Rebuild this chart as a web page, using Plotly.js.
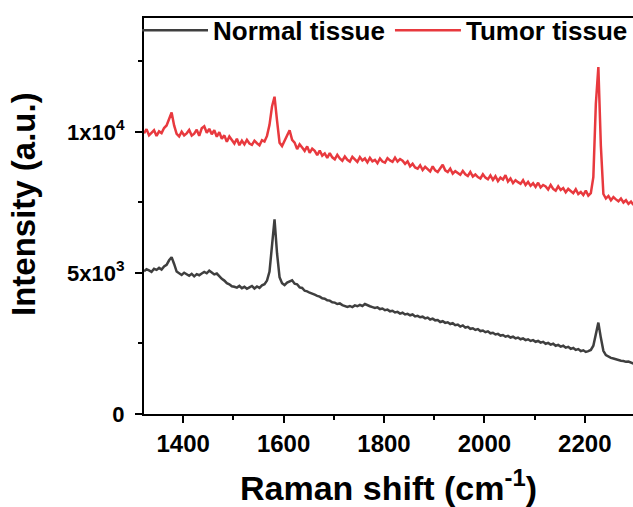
<!DOCTYPE html>
<html>
<head>
<meta charset="utf-8">
<script src="https://cdn.plot.ly/plotly-3.0.1.min.js"></script>
<style>html,body{margin:0;padding:0;background:#fff;}#chart{width:633px;height:507px;}</style>
</head>
<body>
<div id="chart"></div>
<script>
// Raman shift (cm^-1)
var ramanShift = [
  1322,1327,1332,1337,1342,1347,1352,1357,1362,1367,
  1372,1377,1382,1387,1392,1397,1402,1407,1412,1417,
  1422,1427,1432,1437,1442,1447,1452,1457,1462,1467,
  1472,1477,1482,1487,1492,1497,1502,1507,1512,1517,
  1522,1527,1532,1537,1542,1547,1552,1557,1562,1567,
  1572,1577,1582,1587,1592,1597,1602,1607,1612,1617,
  1622,1627,1632,1637,1642,1647,1652,1657,1662,1667,
  1672,1677,1682,1687,1692,1697,1702,1707,1712,1717,
  1722,1727,1732,1737,1742,1747,1752,1757,1762,1767,
  1772,1777,1782,1787,1792,1797,1802,1807,1812,1817,
  1822,1827,1832,1837,1842,1847,1852,1857,1862,1867,
  1872,1877,1882,1887,1892,1897,1902,1907,1912,1917,
  1922,1927,1932,1937,1942,1947,1952,1957,1962,1967,
  1972,1977,1982,1987,1992,1997,2002,2007,2012,2017,
  2022,2027,2032,2037,2042,2047,2052,2057,2062,2067,
  2072,2077,2082,2087,2092,2097,2102,2107,2112,2117,
  2122,2127,2132,2137,2142,2147,2152,2157,2162,2167,
  2172,2177,2182,2187,2192,2197,2202,2207,2212,2217,
  2222,2227,2232,2237,2242,2247,2252,2257,2262,2267,
  2272,2277,2282,2287,2292,2297
];

// Intensity (a.u.) - Normal tissue
var normalTissue = [
  5060,5130,5090,5040,5150,5110,5180,5120,5230,5290,
  5450,5560,5320,5050,4990,4930,5010,4940,4900,4970,
  4880,4960,4920,4980,5040,4990,5080,5020,4950,4980,
  4880,4790,4730,4640,4600,4530,4510,4480,4540,4460,
  4510,4440,4490,4540,4450,4520,4470,4560,4600,4730,
  5050,5900,6900,5700,4850,4640,4570,4660,4700,4740,
  4620,4600,4490,4470,4370,4350,4300,4250,4230,4190,
  4160,4100,4090,4030,4020,3960,3950,3900,3920,3860,
  3840,3800,3830,3790,3850,3820,3870,3830,3900,3850,
  3820,3790,3760,3780,3720,3740,3680,3700,3640,3660,
  3600,3620,3560,3590,3530,3550,3500,3530,3460,3480,
  3430,3450,3390,3420,3350,3380,3320,3330,3260,3290,
  3230,3250,3190,3220,3150,3170,3100,3140,3060,3090,
  3020,3040,2980,3010,2940,2960,2900,2930,2860,2880,
  2820,2840,2780,2800,2740,2770,2710,2740,2680,2710,
  2650,2680,2620,2650,2590,2620,2560,2590,2530,2560,
  2490,2520,2460,2490,2420,2450,2390,2420,2350,2380,
  2310,2340,2270,2300,2230,2260,2200,2230,2270,2420,
  2900,3240,2700,2240,2090,2030,1990,1970,1940,1930,
  1890,1880,1850,1860,1810,1790
];

// Intensity (a.u.) - Tumor tissue
var tumorTissue = [
  9950,10100,9880,9990,10060,9860,10020,9960,10140,10230,
  10480,10690,10230,9930,9840,10010,9880,9950,10070,9870,
  9940,10080,9860,10130,10200,9970,10110,9920,10060,9830,
  9990,9760,9880,9650,9840,9700,9590,9760,9530,9690,
  9560,9720,9590,9540,9690,9600,9530,9710,9660,9860,
  10250,10900,11250,10400,9620,9500,9680,9880,10060,9720,
  9620,9390,9560,9450,9330,9490,9260,9410,9330,9180,
  9340,9160,9240,9080,9250,9100,9030,9190,9060,8980,
  9130,9010,8950,9120,9040,8940,9110,8990,9060,8920,
  9080,8960,9010,8890,9060,8950,8910,9070,8990,8940,
  9090,8950,9040,8980,8870,8960,8780,8870,8740,8700,
  8820,8650,8760,8690,8600,8780,8640,8580,8730,8840,
  8640,8580,8700,8520,8610,8540,8480,8620,8500,8440,
  8580,8420,8490,8400,8350,8500,8380,8320,8460,8300,
  8430,8260,8380,8310,8470,8240,8350,8190,8290,8220,
  8160,8290,8120,8230,8090,8180,8050,8200,8030,8120,
  8070,7960,8120,7980,7920,8070,7940,8010,7860,7980,
  7900,7830,7970,7800,7870,7760,7920,7740,7830,8400,
  11000,12300,9500,7800,7640,7730,7580,7690,7610,7540,
  7640,7500,7580,7450,7530,7410
];

var seriesNames = ['Normal tissue', 'Tumor tissue'];
var xTickVals = [1400, 1600, 1800, 2000, 2200];
var yTickVals = [0, 5000, 10000];
var yTickText = ['0', '5x10<sup>3</sup>', '1x10<sup>4</sup>'];
var yMinorVals = [2500, 7500, 12500];
var xTitle = 'Raman shift (cm<sup>-1</sup>)';
var yTitle = 'Intensity (a.u.)';

var FONT = 'Liberation Sans, Arial, sans-serif';

var traces = [
  {x: ramanShift, y: normalTissue, name: seriesNames[0], type: 'scatter', mode: 'lines',
   line: {color: '#3f3f3f', width: 2.5}},
  {x: ramanShift, y: tumorTissue, name: seriesNames[1], type: 'scatter', mode: 'lines',
   line: {color: '#e8393e', width: 2.5}}
];

var layout = {
  width: 633, height: 507,
  margin: {l: 144, r: 0, t: 18, b: 93, pad: 0},
  paper_bgcolor: '#ffffff', plot_bgcolor: '#ffffff',
  font: {family: FONT, color: '#000', size: 23, weight: 'bold'},
  showlegend: true,
  legend: {
    orientation: 'h', x: -0.0001, xanchor: 'left', y: 1.028, yanchor: 'top',
    font: {family: FONT, size: 26, color: '#000', weight: 'bold'},
    bgcolor: 'rgba(0,0,0,0)', borderwidth: 0, itemwidth: 66, tracegroupgap: 0
  },
  xaxis: {
    range: [1322, 2296], tickmode: 'array', tickvals: xTickVals,
    ticks: 'outside', ticklen: 7, tickwidth: 2, tickcolor: '#000',
    minor: {dtick: 100, tick0: 1400, ticks: 'outside', ticklen: 4, tickwidth: 2, tickcolor: '#000'},
    showline: true, linewidth: 2, linecolor: '#000', mirror: true,
    showgrid: false, zeroline: false,
    tickfont: {family: FONT, size: 24, color: '#000', weight: 'bold'},
    title: {text: xTitle, standoff: 22, font: {family: FONT, size: 34, color: '#000', weight: 'bold'}}
  },
  yaxis: {
    range: [0, 14040], tickmode: 'array', tickvals: yTickVals, ticktext: yTickText,
    ticks: 'outside', ticklen: 7, tickwidth: 2, tickcolor: '#000', ticklabelstandoff: 6,
    minor: {tickmode: 'array', tickvals: yMinorVals, ticks: 'outside', ticklen: 4, tickwidth: 2, tickcolor: '#000'},
    showline: true, linewidth: 2, linecolor: '#000', mirror: false,
    showgrid: false, zeroline: false,
    tickfont: {family: FONT, size: 22, color: '#000', weight: 'bold'}
  },
  annotations: [{
    text: yTitle, textangle: -90, xref: 'paper', yref: 'paper',
    x: -0.2474, y: 0.5303, xanchor: 'center', yanchor: 'middle', showarrow: false,
    font: {family: FONT, size: 33, color: '#000', weight: 'bold'}
  }]
};

Plotly.newPlot('chart', traces, layout, {displayModeBar: false, staticPlot: true});
</script>
</body>
</html>
